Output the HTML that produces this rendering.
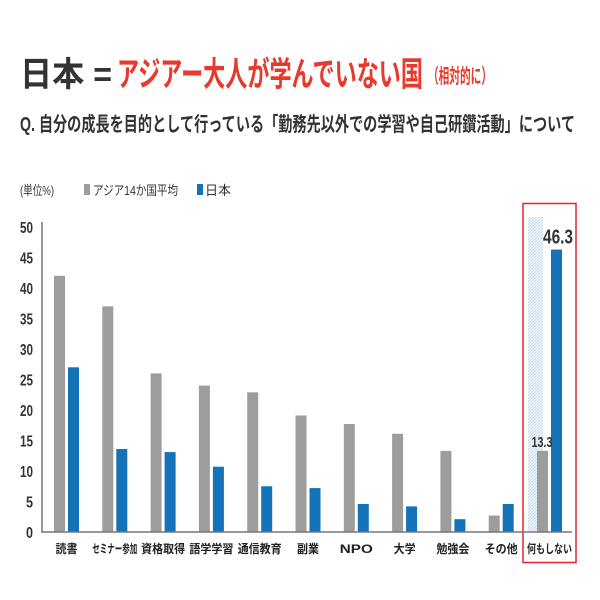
<!DOCTYPE html>
<html><head><meta charset="utf-8"><style>
body{margin:0;background:#fff}
svg{display:block;font-family:"Liberation Sans","Noto Sans CJK JP",sans-serif}
</style></head><body>
<svg id="chart" width="600" height="600" viewBox="0 0 600 600">
<defs><pattern id="hatch" width="3" height="3" patternUnits="userSpaceOnUse"><rect width="3" height="3" fill="#eef4f9"/><path d="M0 3L3 0" stroke="#c9dbe9" stroke-width="0.8"/></pattern></defs>
<text x="20" y="86" font-size="34" font-weight="bold" fill="#333" textLength="92" lengthAdjust="spacingAndGlyphs">日本 =</text>
<text x="117" y="86" font-size="34" font-weight="bold" fill="#e8392c" textLength="306" lengthAdjust="spacingAndGlyphs">アジアー大人が学んでいない国</text>
<text x="428" y="83" font-size="20" font-weight="bold" fill="#e8392c" textLength="64" lengthAdjust="spacingAndGlyphs">（相対的に）</text>
<text x="20" y="131" font-size="20" font-weight="bold" fill="#333" textLength="555" lengthAdjust="spacingAndGlyphs">Q. 自分の成長を目的として行っている「勤務先以外での学習や自己研鑽活動」について</text>
<text x="20" y="195" font-size="13" fill="#333" textLength="34" lengthAdjust="spacingAndGlyphs">(単位%)</text>
<rect x="84" y="184" width="6" height="11" fill="#9d9d9d"/>
<text x="93" y="195" font-size="13" fill="#333" textLength="85" lengthAdjust="spacingAndGlyphs">アジア14か国平均</text>
<rect x="197" y="184" width="6" height="11" fill="#1372b8"/>
<text x="205" y="195" font-size="13" fill="#333" textLength="26" lengthAdjust="spacingAndGlyphs">日本</text>
<rect x="523" y="203.5" width="53" height="359" fill="none" stroke="#e8232f" stroke-width="1.5"/>
<rect x="528" y="217" width="15" height="315" fill="url(#hatch)"/>
<g id="bars"></g>
<line x1="42" y1="222" x2="42" y2="532" stroke="#999" stroke-width="2"/>
<line x1="41" y1="532" x2="572" y2="532" stroke="#777" stroke-width="1.5"/>
</svg>
<script>
const categories=["読書","セミナー参加","資格取得","語学学習","通信教育","副業","NPO","大学","勉強会","その他","何もしない"];
const asiaValues=[42,37,26,24,22.9,19.1,17.7,16.1,13.3,2.7,13.3];
const japanValues=[27,13.6,13.1,10.7,7.5,7.2,4.6,4.2,2.1,4.6,46.3];
const yTicks=[0,5,10,15,20,25,30,35,40,45,50];
const svg=document.getElementById('chart');
const g=document.getElementById('bars');
const NS='http://www.w3.org/2000/svg';
const y=v=>532-v*6.1;
const gx=i=>54+i*48.3;
function mk(tag,attrs,parent){const e=document.createElementNS(NS,tag);for(const k in attrs)e.setAttribute(k,attrs[k]);(parent||g).appendChild(e);return e;}
yTicks.forEach(t=>{
  const e=mk('text',{x:33,y:y(t)+6,'font-size':16,'font-weight':'bold',fill:'#333','text-anchor':'end',textLength:t<10?7:13,lengthAdjust:'spacingAndGlyphs'});
  e.textContent=t;
  
  
});
categories.forEach((c,i)=>{
  const a=mk('rect',{x:gx(i),y:y(asiaValues[i]),width:11,height:asiaValues[i]*6.1,fill:'#9d9d9d'});
  
  
  const b=mk('rect',{x:gx(i)+14,y:y(japanValues[i]),width:11,height:japanValues[i]*6.1,fill:'#1372b8'});
  
  
  const t=mk('text',{x:gx(i)+12.5,y:553,'font-size':12,'font-weight':'bold',fill:'#222','text-anchor':'middle',textLength:Math.min(c.length*11,45),lengthAdjust:'spacingAndGlyphs'});
  t.textContent=c;
  
  
});
const last=categories.length-1;
const l1=mk('text',{x:gx(last)+5,y:y(asiaValues[last])-4,'font-size':15,'font-weight':'bold',fill:'#333','text-anchor':'middle',textLength:21,lengthAdjust:'spacingAndGlyphs'});
l1.textContent=asiaValues[last];


const l2=mk('text',{x:573,y:y(japanValues[last])-6,'font-size':20,'font-weight':'bold',fill:'#333','text-anchor':'end',textLength:30,lengthAdjust:'spacingAndGlyphs'});
l2.textContent=japanValues[last];


</script>
</body></html>
